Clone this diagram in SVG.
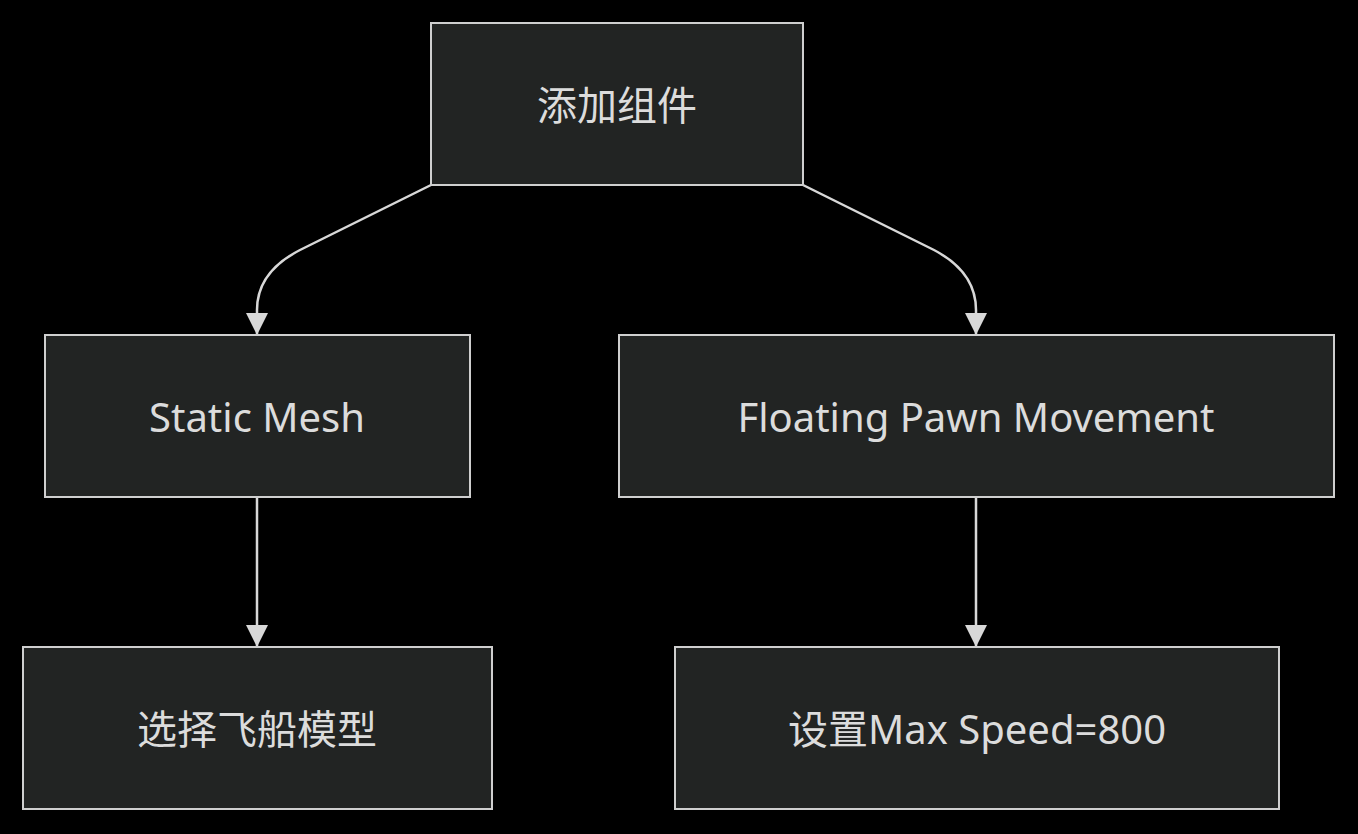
<svg xmlns="http://www.w3.org/2000/svg" width="1358" height="834" viewBox="0 0 1358 834">
<style>
.n{fill:#222423;stroke:#cfcfcf;stroke-width:2}
.t{fill:#dcdcdc;font-family:"Noto Sans","Noto Sans CJK SC",sans-serif;font-size:40px;text-anchor:middle;dominant-baseline:central}
.e{fill:none;stroke:#d8d8d8;stroke-width:2.5}
</style>
<defs>
<marker id="a" markerUnits="userSpaceOnUse" markerWidth="24" markerHeight="24" refX="22" refY="11" orient="auto">
<path d="M0,0 L22,11 L0,22 Z" fill="#d8d8d8"/>
</marker>
</defs>
<rect width="1358" height="834" fill="#000"/>
<g id="edges">
<path class="e" d="M431,185 L300,250 Q257,272 257,310 L257,335" marker-end="url(#a)"/>
<path class="e" d="M803,185 L934,250 Q976,272 976,310 L976,335" marker-end="url(#a)"/>
<path class="e" d="M257,497 L257,647" marker-end="url(#a)"/>
<path class="e" d="M976,497 L976,647" marker-end="url(#a)"/>
</g>
<g id="n1"><rect class="n" x="431" y="23" width="372" height="162"/><text class="t" x="617" y="104">添加组件</text></g>
<g id="n2"><rect class="n" x="45" y="335" width="425" height="162"/><text class="t" x="257" y="416">Static Mesh</text></g>
<g id="n3"><rect class="n" x="619" y="335" width="715" height="162"/><text class="t" x="976" y="416">Floating Pawn Movement</text></g>
<g id="n4"><rect class="n" x="23" y="647" width="469" height="162"/><text class="t" x="257" y="728">选择飞船模型</text></g>
<g id="n5"><rect class="n" x="675" y="647" width="604" height="162"/><text class="t" x="977" y="728">设置Max Speed=800</text></g>
</svg>
